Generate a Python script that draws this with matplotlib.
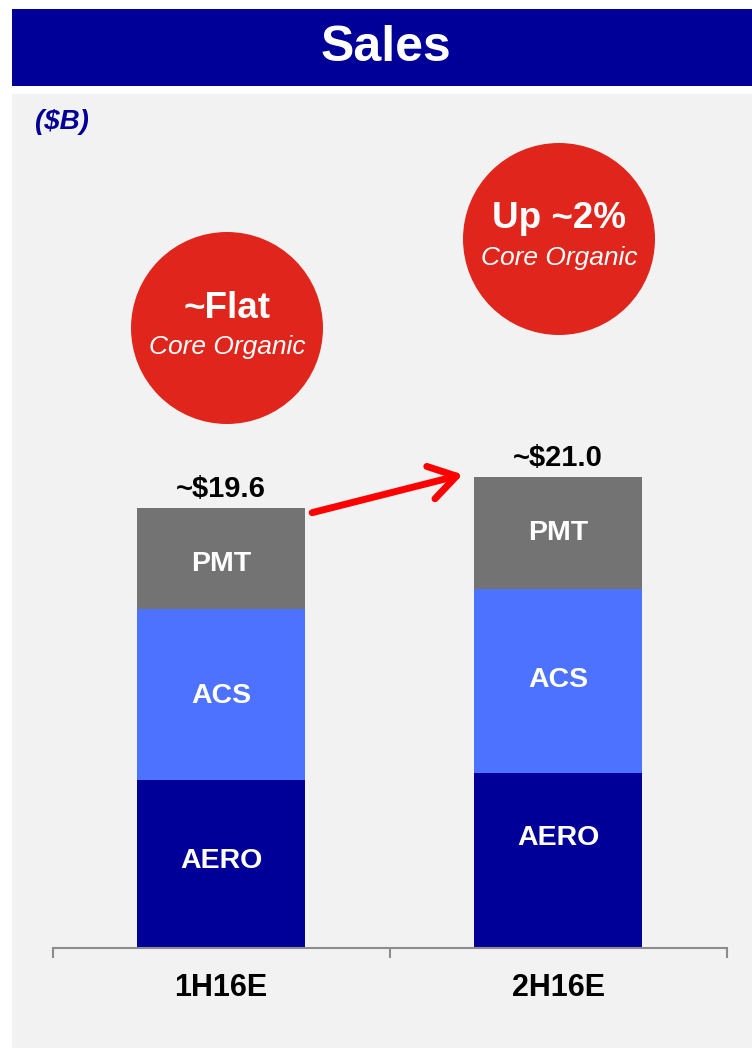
import matplotlib
matplotlib.use("Agg")
import matplotlib.pyplot as plt
from matplotlib.patches import Rectangle, Ellipse, FancyArrowPatch
import numpy as np

# ---- data ----
categories = ["1H16E", "2H16E"]
segments = ["AERO", "ACS", "PMT"]
aero = [7.5, 7.8]
acs = [7.6, 8.2]
pmt = [4.5, 5.0]
total_labels = ["~$19.6", "~$21.0"]
bubble_titles = ["~Flat", "Up ~2%"]
bubble_subtitles = ["Core Organic", "Core Organic"]

# ---- style ----
NAVY = "#000099"
BLUE = "#4D72FF"
GRAY = "#737373"
RED_CIRCLE = "#E0261C"
BG = "#F2F2F2"
FONT = "Liberation Sans"
colors = [NAVY, BLUE, GRAY]

W, H = 752, 1048
fig = plt.figure(figsize=(W / 100, H / 100), dpi=100, facecolor="white")

def fx(px):
    return px / W

def fy(py):
    return 1 - py / H

# title bar and panel background
fig.patches.append(Rectangle((fx(12), fy(86)), fx(740), (86 - 9) / H,
                             transform=fig.transFigure, facecolor=NAVY,
                             edgecolor="none", zorder=-2))
fig.patches.append(Rectangle((fx(12), 0), fx(740), (1048 - 94) / H,
                             transform=fig.transFigure, facecolor=BG,
                             edgecolor="none", zorder=-2))
fig.text(fx(386), fy(48), "Sales", ha="center", va="center", color="white",
         fontsize=36, fontweight="bold", family=FONT)
fig.text(fx(35), fy(122), "($B)", ha="left", va="center", color=NAVY,
         fontsize=20, fontweight="bold", fontstyle="italic", family=FONT)

# axes: baseline at y=948 px, x ticks at 52.7 .. 726.6 px
scale = 22.44  # px per $B
ax_bottom, ax_top = 948, 100
ax = fig.add_axes([fx(52.7), 1 - ax_bottom / H, (726.6 - 52.7) / W, (ax_bottom - ax_top) / H])
ax.set_zorder(2)
ax.set_facecolor("none")
ax.set_xlim(-0.5, 1.5)
ax.set_ylim(0, (ax_bottom - ax_top) / scale)

x = np.arange(len(categories))
bw = 0.5
bottoms = np.zeros(len(categories))
series = [aero, acs, pmt]
nudges = [[2, 16], [-1, 1], [-4, 0]]  # label vertical nudges (pt)
for si, (vals, col, name) in enumerate(zip(series, colors, segments)):
    vals = np.array(vals)
    ax.bar(x, vals, bw, bottom=bottoms, color=col, edgecolor="none", zorder=2)
    for i in range(len(x)):
        ax.annotate(name, (x[i], bottoms[i] + vals[i] / 2), xytext=(0, nudges[si][i]),
                    textcoords="offset points", ha="center", va="center",
                    color="white", fontsize=20.5, fontweight="bold", family=FONT, zorder=3)
    bottoms = bottoms + vals

totals = bottoms
for i in range(len(x)):
    ax.annotate(total_labels[i], (x[i], totals[i]), xytext=(0, 8),
                textcoords="offset points", ha="center", va="baseline",
                color="black", fontsize=21, fontweight="bold", family=FONT)

# arrow between bar tops
arrow = FancyArrowPatch((x[0] + bw / 2 + 0.02, totals[0] - 0.2),
                        (x[1] - bw / 2 - 0.033, totals[1] + 0.1),
                        arrowstyle="->,head_length=19,head_width=12",
                        mutation_scale=1, color="#FF0000", lw=5,
                        shrinkA=0, shrinkB=0,
                        capstyle="round", joinstyle="round", zorder=4)
ax.add_patch(arrow)

# spines / ticks
for s in ["top", "right", "left"]:
    ax.spines[s].set_visible(False)
ax.spines["bottom"].set_color("#8C8C8C")
ax.spines["bottom"].set_linewidth(1.5)
ax.set_yticks([])
ax.set_xticks(x)
ax.set_xticklabels(categories, fontsize=22, fontweight="bold", family=FONT)
ax.tick_params(axis="x", length=0, pad=18)
ax.set_xticks([-0.5, 0.5, 1.5], minor=True)
ax.tick_params(axis="x", which="minor", length=7, width=1.5, color="#8C8C8C", direction="out")

# bubbles
bubble_centers = [(227, 328), (559, 239)]
r = 96
for (cx, cy), t1, t2 in zip(bubble_centers, bubble_titles, bubble_subtitles):
    fig.patches.append(Ellipse((fx(cx), fy(cy)), 2 * r / W, 2 * r / H,
                               transform=fig.transFigure, facecolor=RED_CIRCLE,
                               edgecolor="none", zorder=1))
    fig.text(fx(cx), fy(cy - 20), t1, ha="center", va="center", color="white",
             fontsize=26.5, fontweight="bold", family=FONT, zorder=5)
    fig.text(fx(cx), fy(cy + 19), t2, ha="center", va="center", color="white",
             fontsize=19, fontstyle="italic", family=FONT, zorder=5)

fig.savefig("out.png", dpi=100, facecolor="white")
